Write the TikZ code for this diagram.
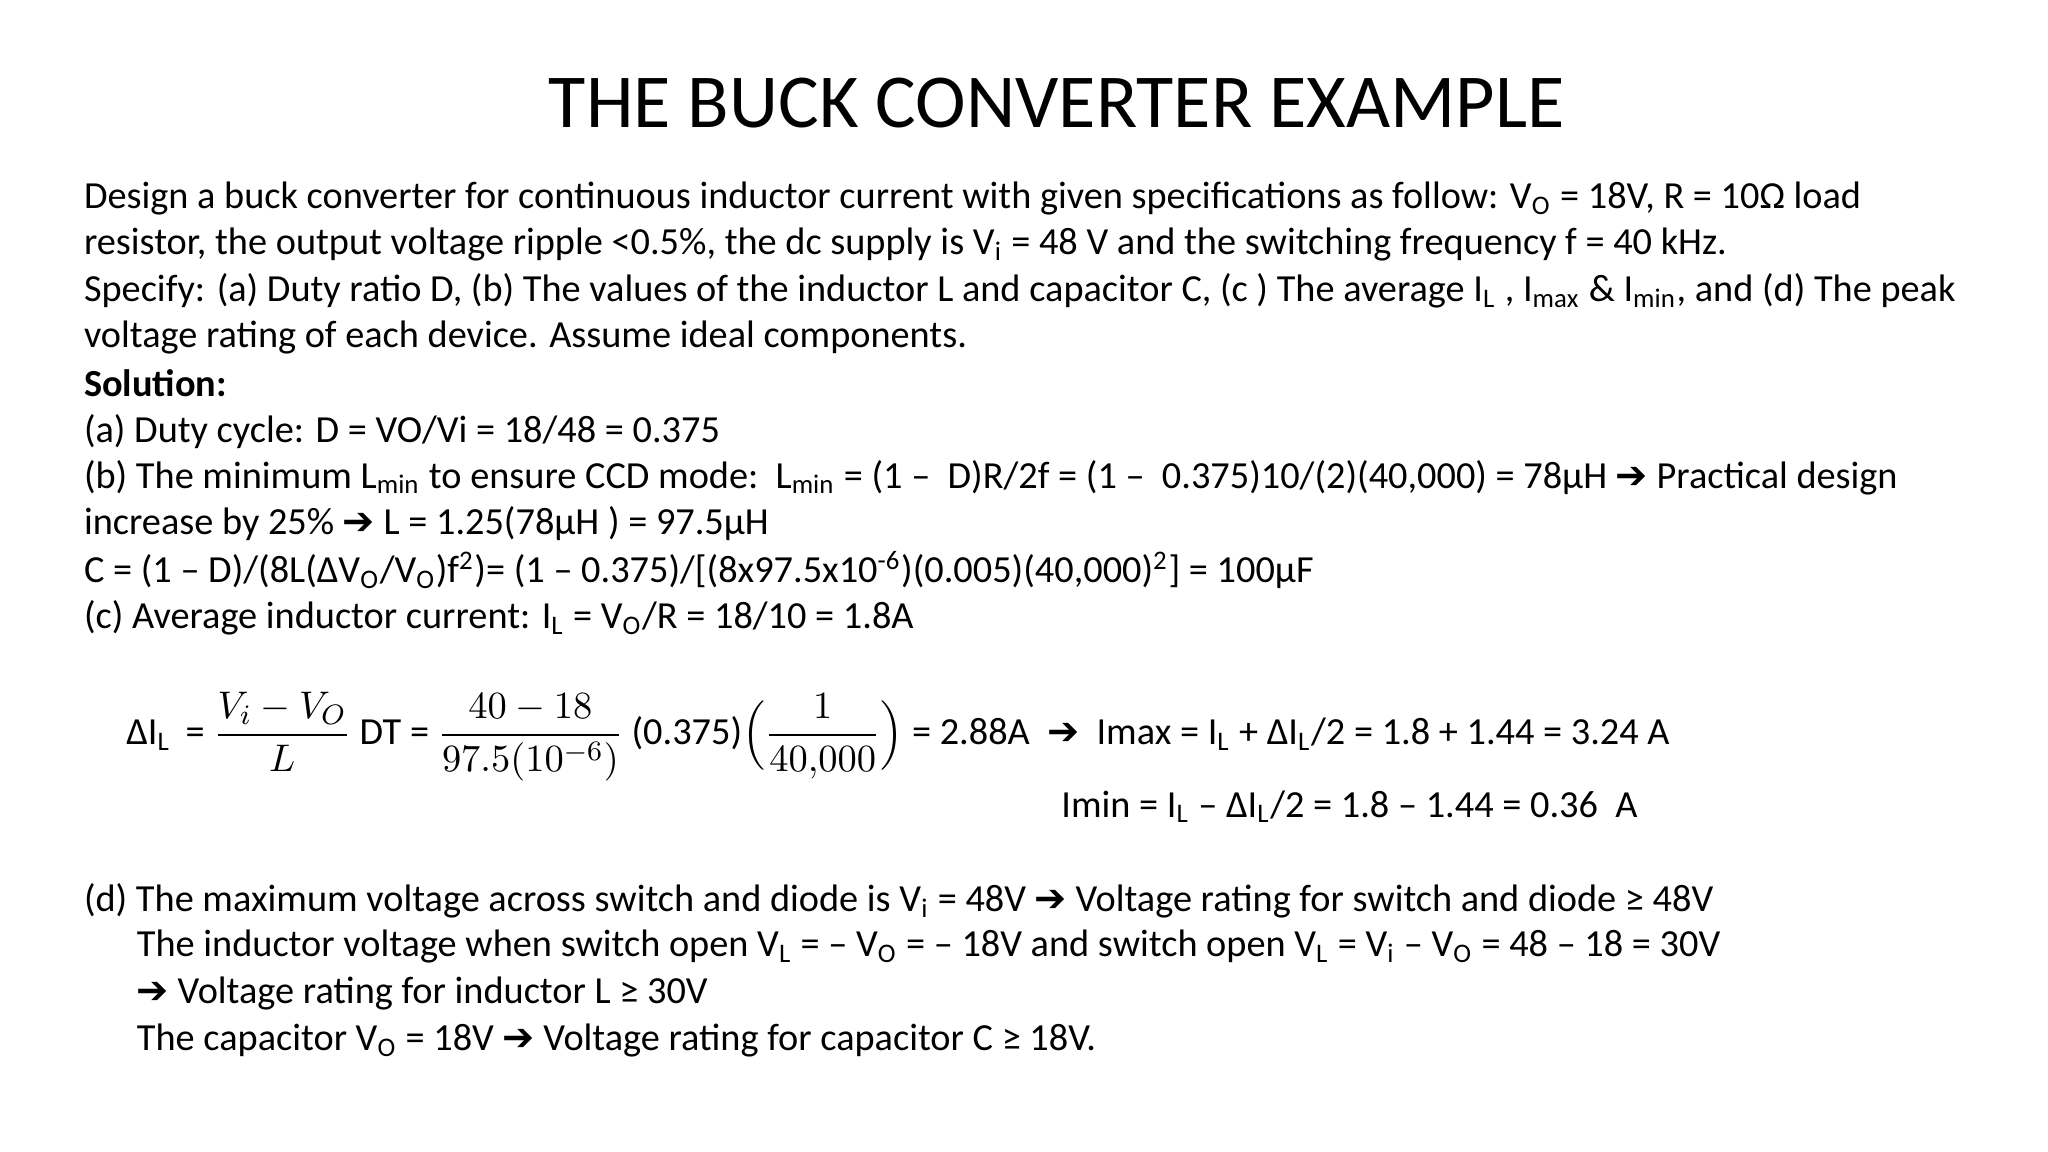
\documentclass[tikz,border=0pt]{standalone}
\usepackage{amsmath}
\usepackage{fontspec}
\setmainfont{Carlito}
\newfontfamily\dejavu{DejaVu Sans}
\newcommand{\arr}{{\dejavu\char"2794}}
\newcommand{\sub}[1]{\textsubscript{#1}}
\begin{document}
\begin{tikzpicture}[x=0.013226cm,y=-0.013226cm,
  txt/.style={anchor=west,inner sep=0pt,font=\fontsize{10.9}{13}\selectfont}]
\useasboundingbox (0,0) rectangle (1548.5,871);
\node[font=\fontsize{21.7}{26}\selectfont] (title) at (799,78) {THE BUCK CONVERTER EXAMPLE};
\node[txt] (l1) at (63,150) {Design a buck converter for continuous inductor current with given specifications as follow: V\sub{O} = 18V, R = 10Ω load};
\node[txt] (l2) at (63,185) {resistor, the output voltage ripple <0.5\%, the dc supply is V\sub{i} = 48 V and the switching frequency f = 40 kHz.};
\node[txt] (l3) at (63,220) {Specify: (a) Duty ratio D, (b) The values of the inductor L and capacitor C, (c ) The average I\sub{L} , I\sub{max} \& I\sub{min}, and (d) The peak};
\node[txt] (l4) at (63,255) {voltage rating of each device. Assume ideal components.};
\node[txt] (l5) at (63,290) {\textbf{Solution:}};
\node[txt] (l6) at (63,326) {(a) Duty cycle: D = VO/Vi = 18/48 = 0.375};
\node[txt] (l7) at (63,361) {(b) The minimum L\sub{min} to ensure CCD mode:\ \ L\sub{min} = (1 –\ \ D)R/2f = (1 –\ \ 0.375)10/(2)(40,000) = 78μH \arr\ Practical design};
\node[txt] (l8) at (63,396) {increase by 25\% \arr\ L = 1.25(78μH ) = 97.5μH};
\node[txt] (l9) at (63,431) {C = (1 – D)/(8L(ΔV\sub{O}/V\sub{O})f\textsuperscript{2})= (1 – 0.375)/[(8x97.5x10\textsuperscript{-6})(0.005)(40,000)\textsuperscript{2}] = 100μF};
\node[txt] (l10) at (63,467) {(c) Average inductor current: I\sub{L} = V\sub{O}/R = 18/10 = 1.8A};
\node[txt] (eq) at (95,557) {ΔI\sub{L} \,= $\dfrac{V_i-V_O}{L}$ DT = $\dfrac{40-18}{97.5(10^{-6})}$ (0.375)$\Bigl(\dfrac{1}{40{,}000}\Bigr)$ = 2.88A \ \arr\ \ Imax = I\sub{L} + ΔI\sub{L}/2 = 1.8 + 1.44 = 3.24 A};
\node[txt] (imin) at (802,610) {Imin = I\sub{L} – ΔI\sub{L}/2 = 1.8 – 1.44 = 0.36\ \ A};
\node[txt] (d1) at (63,681) {(d) The maximum voltage across switch and diode is V\sub{i} = 48V \arr\ Voltage rating for switch and diode ≥ 48V};
\node[txt] (d2) at (103,716) {The inductor voltage when switch open V\sub{L} = – V\sub{O} = – 18V and switch open V\sub{L} = V\sub{i} – V\sub{O} = 48 – 18 = 30V};
\node[txt] (d3) at (103,751) {\arr\ Voltage rating for inductor L ≥ 30V};
\node[txt] (d4) at (103,787) {The capacitor V\sub{O} = 18V \arr\ Voltage rating for capacitor C ≥ 18V.};
\end{tikzpicture}
\end{document}
